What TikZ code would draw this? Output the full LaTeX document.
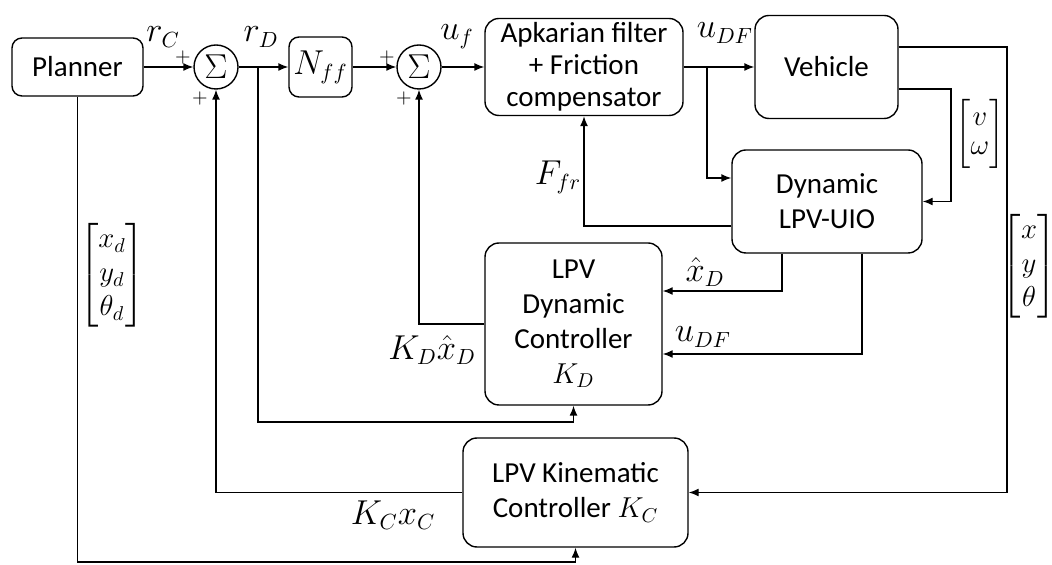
\documentclass[tikz,border=0pt]{standalone}
\usepackage{amsmath}
\usepackage{fontspec}
\setmainfont{Carlito}
\usetikzlibrary{arrows.meta}
\setlength{\arraycolsep}{1pt}

\begin{document}
\begin{tikzpicture}[x=0.5pt,y=-0.5pt,line width=0.7pt,font=\fontsize{14.5}{17.5}\selectfont,
  blk/.style={draw,rounded corners=7pt,align=center,inner sep=2pt},
  sum/.style={draw,circle,minimum size=22pt,inner sep=0pt,font=\fontsize{19}{19}\selectfont},
  lab/.style={inner sep=1pt,font=\fontsize{16}{18}\selectfont},
  mat/.style={inner sep=0pt,font=\fontsize{14.5}{17}\selectfont},
  pm/.style={font=\fontsize{10}{10}\selectfont,inner sep=0pt},
  arr/.style={-{Latex[length=5pt,width=4pt]}}]
\useasboundingbox (0,0) rectangle (1052,565);
\node[blk,rounded corners=5pt,minimum width=65.5pt,minimum height=29pt] (pl) at (77.5,67) {Planner};
\node[sum] (s1) at (216,67) {$\Sigma$};
\node[blk,rounded corners=5pt,minimum width=31.5pt,minimum height=30pt,font=\fontsize{16}{16}\selectfont] (nff) at (320.5,67) {$N_{ff}$};
\node[sum] (s2) at (419,67) {$\Sigma$};
\node[blk,minimum width=99pt,minimum height=48.5pt,font=\fontsize{14.5}{16}\selectfont] (apk) at (584,67) {Apkarian filter\\+ Friction\\compensator};
\node[blk,minimum width=71.5pt,minimum height=51.5pt] (veh) at (826.5,67) {Vehicle};
\node[blk,minimum width=95pt,minimum height=51.5pt] (uio) at (827,201.5) {Dynamic\\LPV-UIO};
\node[blk,minimum width=88.5pt,minimum height=81pt] (dyn) at (573.5,324) {LPV\\Dynamic\\Controller\\$K_D$};
\node[blk,minimum width=112.5pt,minimum height=54.5pt] (kin) at (575.5,492.5) {LPV Kinematic\\Controller $K_C$};
\foreach \x/\y [count=\i] in {183/58,200/99,387/58,404/99} \node[pm] (p\i) at (\x,\y) {$+$};
\node[lab] (rc) at (163,37) {$r_C$};
\node[lab] (rd) at (261,37) {$r_D$};
\node[lab] (uf) at (457,37) {$u_f$};
\node[lab] (udf) at (725,33) {$u_{DF}$};
\node[lab] (ffr) at (558,177) {$F_{fr}$};
\node[mat] (vw) at (980,134) {\def\arraystretch{0.85}$\begin{bmatrix} v\\ \omega \end{bmatrix}$};
\node[lab] (xd) at (705,272) {$\hat{x}_D$};
\node[lab] (udf2) at (703,337) {$u_{DF}$};
\node[lab] (kdx) at (432,350) {$K_D\hat{x}_D$};
\node[lab] (kcx) at (393,515) {$K_C x_C$};
\node[mat] (ref) at (112,275) {$\begin{bmatrix} x_d\\ y_d\\ \theta_d \end{bmatrix}$};
\node[mat] (pos) at (1029,266) {$\begin{bmatrix} x\\ y\\ \theta \end{bmatrix}$};
\coordinate (bD) at (258,67);
\coordinate (bU) at (707,67);
\coordinate (rx) at (1007,300);
\coordinate (vx) at (951,150);
\draw[arr] (pl) -- (s1);
\draw[arr] (s1) -- (nff);
\draw[arr] (nff) -- (s2);
\draw[arr] (s2) -- (apk);
\draw[arr] (apk) -- (veh);
\draw[arr] (bU) |- (uio.west |- 0,178);
\draw[arr] (veh.east |- 0,47) -| (rx) |- (kin.east);
\draw[arr] (veh.east |- 0,89) -| (vx) |- (uio.east);
\draw[arr] (uio.west |- 0,226) -| (apk.south);
\draw[arr] (uio.south -| 782,0) |- (dyn.east |- 0,291);
\draw[arr] (uio.south -| 862,0) |- (dyn.east |- 0,354);
\draw[arr] (dyn.west) -| (s2.south);
\draw[arr] (bD) |- (dyn.south |- 0,422) -- (dyn.south);
\draw[arr] (kin.west) -| (s1.south);
\draw[arr] (pl.south) |- (kin.south |- 0,562) -- (kin.south);
\end{tikzpicture}
\end{document}
